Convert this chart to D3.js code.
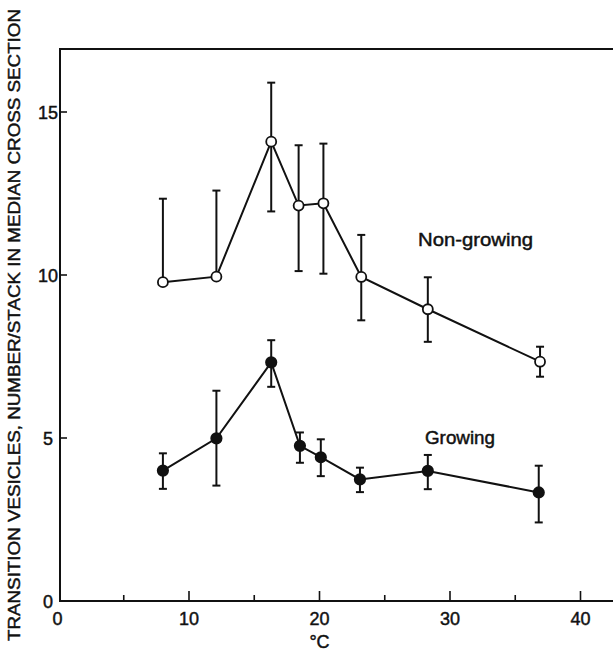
<!DOCTYPE html>
<html>
<head>
<meta charset="utf-8">
<script src="https://cdn.jsdelivr.net/npm/d3@7"></script>
<style>
  html, body { margin: 0; padding: 0; background: #fff; }
  svg { display: block; }
  text { font-family: "Liberation Sans", Arial, sans-serif; fill: #111; stroke: #111; stroke-width: 0.45px; }
</style>
</head>
<body>
<svg id="chart" width="613" height="651"></svg>
<script>
// ---- Data ----
const nonGrowingTemp  = [8.0, 12.1, 16.3, 18.4, 20.3, 23.2, 28.3, 36.9];
const nonGrowingMean  = [9.78, 9.95, 14.09, 12.13, 12.2, 9.94, 8.95, 7.34];
const nonGrowingUpper = [12.34, 12.59, 15.9, 13.98, 14.03, 11.23, 9.93, 7.8];
const nonGrowingLower = [null, null, 11.95, 10.12, 10.04, 8.61, 7.95, 6.88];

const growingTemp  = [8.0, 12.1, 16.3, 18.5, 20.1, 23.1, 28.3, 36.8];
const growingMean  = [4.0, 4.99, 7.32, 4.76, 4.41, 3.73, 3.99, 3.33];
const growingUpper = [4.53, 6.45, 8.0, 5.17, 4.96, 4.09, 4.48, 4.15];
const growingLower = [3.44, 3.54, 6.57, 4.24, 3.83, 3.34, 3.43, 2.41];

const xMajorTicks = [0, 10, 20, 30, 40];
const xMinorTicks = [5, 15, 25, 35];
const yTicks = [0, 5, 10, 15];

const xAxisTitle = "°C";
const yAxisTitle = "TRANSITION VESICLES, NUMBER/STACK IN MEDIAN CROSS SECTION";
const seriesLabels = ["Non-growing", "Growing"];

// ---- Layout ----
const svg = d3.select("#chart");
const W = 613;
const axLeft = 60, axBottom = 601, axTop = 49;
const x = d3.scaleLinear().domain([0, 40]).range([58.5, 580.5]);
const y = d3.scaleLinear().domain([0, 15]).range([axBottom, 112]);

const ink = "#111";

// frame: left axis, top line, bottom axis
svg.append("line").attr("x1", axLeft).attr("x2", axLeft).attr("y1", axTop).attr("y2", axBottom + 1)
  .attr("stroke", ink).attr("stroke-width", 2);
svg.append("line").attr("x1", axLeft - 1).attr("x2", W).attr("y1", axTop).attr("y2", axTop)
  .attr("stroke", ink).attr("stroke-width", 2);
svg.append("line").attr("x1", axLeft - 1).attr("x2", W).attr("y1", axBottom).attr("y2", axBottom)
  .attr("stroke", ink).attr("stroke-width", 2);

// x ticks (inward)
svg.selectAll(".xmaj").data(xMajorTicks.filter(d => d > 0)).join("line")
  .attr("x1", d => x(d)).attr("x2", d => x(d)).attr("y1", axBottom).attr("y2", axBottom - 10)
  .attr("stroke", ink).attr("stroke-width", 1.6);
svg.selectAll(".xmin").data(xMinorTicks).join("line")
  .attr("x1", d => x(d)).attr("x2", d => x(d)).attr("y1", axBottom).attr("y2", axBottom - 6)
  .attr("stroke", ink).attr("stroke-width", 1.6);
svg.selectAll(".xlab").data(xMajorTicks).join("text")
  .attr("x", d => x(d) - (d === 0 ? 1 : 0)).attr("y", axBottom + 24)
  .attr("text-anchor", "middle").attr("font-size", 18)
  .text(d => d);

// y ticks
svg.selectAll(".ytk").data(yTicks.filter(d => d > 0)).join("line")
  .attr("x1", axLeft).attr("x2", axLeft + 7).attr("y1", d => y(d)).attr("y2", d => y(d))
  .attr("stroke", ink).attr("stroke-width", 1.6);
svg.selectAll(".ylab").data(yTicks).join("text")
  .attr("x", axLeft - 12).attr("y", d => y(d) + 6.5)
  .attr("text-anchor", "middle").attr("font-size", 18)
  .text(d => d);

// axis titles
svg.append("text").attr("x", x(20)).attr("y", 648)
  .attr("text-anchor", "middle").attr("font-size", 18).text(xAxisTitle);
svg.append("text")
  .attr("transform", "translate(19.5,325) rotate(-90)")
  .attr("text-anchor", "middle").attr("font-size", 16)
  .attr("textLength", 632).attr("lengthAdjust", "spacingAndGlyphs")
  .text(yAxisTitle);

// series drawing
function drawSeries(temps, means, uppers, lowers, filled) {
  const pts = temps.map((t, i) => ({ t, m: means[i], u: uppers[i], l: lowers[i] }));
  const g = svg.append("g");
  // error bars
  pts.forEach(p => {
    const lo = p.l == null ? p.m : p.l;
    g.append("line").attr("x1", x(p.t)).attr("x2", x(p.t))
      .attr("y1", y(p.u)).attr("y2", y(lo))
      .attr("stroke", ink).attr("stroke-width", 2);
    g.append("line").attr("x1", x(p.t) - 4).attr("x2", x(p.t) + 4)
      .attr("y1", y(p.u)).attr("y2", y(p.u))
      .attr("stroke", ink).attr("stroke-width", 2);
    if (p.l != null) {
      g.append("line").attr("x1", x(p.t) - 4).attr("x2", x(p.t) + 4)
        .attr("y1", y(p.l)).attr("y2", y(p.l))
        .attr("stroke", ink).attr("stroke-width", 2);
    }
  });
  // connecting line
  const line = d3.line().x(d => x(d.t)).y(d => y(d.m));
  g.append("path").datum(pts).attr("d", line)
    .attr("fill", "none").attr("stroke", ink).attr("stroke-width", 2);
  // markers
  g.selectAll("circle").data(pts).join("circle")
    .attr("cx", d => x(d.t)).attr("cy", d => y(d.m))
    .attr("r", filled ? 5.2 : 5)
    .attr("fill", filled ? ink : "#fff")
    .attr("stroke", ink).attr("stroke-width", 1.8);
}

drawSeries(nonGrowingTemp, nonGrowingMean, nonGrowingUpper, nonGrowingLower, false);
drawSeries(growingTemp, growingMean, growingUpper, growingLower, true);

// series labels
svg.append("text").attr("x", 418).attr("y", 245.5)
  .attr("font-size", 17.5).attr("textLength", 115).attr("lengthAdjust", "spacingAndGlyphs")
  .text(seriesLabels[0]);
svg.append("text").attr("x", 425).attr("y", 443.5)
  .attr("font-size", 17.5).attr("textLength", 70).attr("lengthAdjust", "spacingAndGlyphs")
  .text(seriesLabels[1]);
</script>
</body>
</html>
